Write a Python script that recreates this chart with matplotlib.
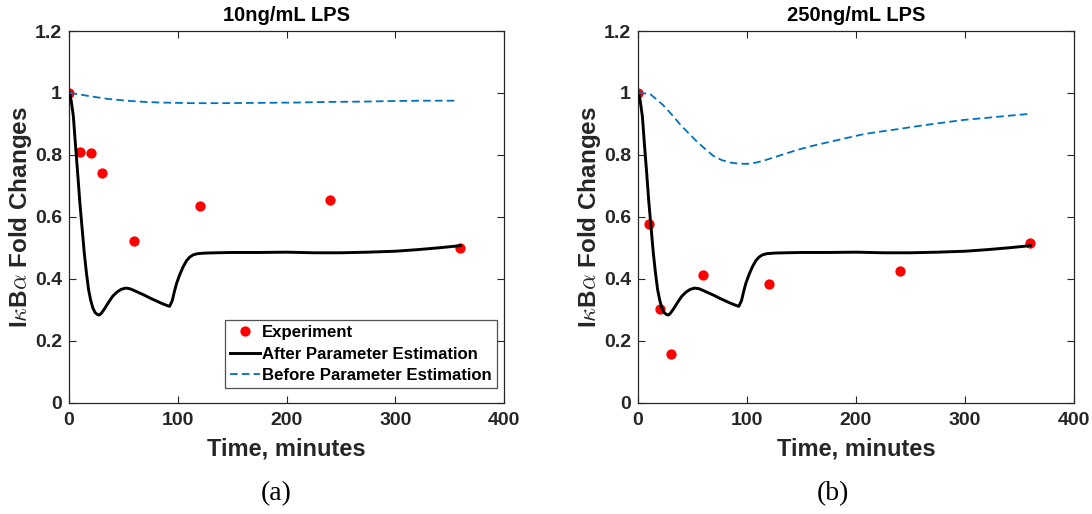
import matplotlib
matplotlib.use("Agg")
import matplotlib.pyplot as plt

plt.rcParams['font.family'] = ['Liberation Sans', 'DejaVu Sans']
plt.rcParams['mathtext.fontset'] = 'cm'
plt.rcParams['lines.scale_dashes'] = False

# ---- data ----
exp_t = [0, 10, 20, 30, 60, 120, 240, 360]
exp_10 = [1.0, 0.808, 0.805, 0.743, 0.521, 0.634, 0.654, 0.500]
exp_250 = [1.0, 0.576, 0.301, 0.157, 0.413, 0.383, 0.426, 0.517]

fit_t = [0.5, 2, 4, 6, 8, 10, 12, 14, 16, 18, 20, 22, 24, 26, 28, 30, 33, 36, 40,
         44, 48, 52, 56, 60, 65, 70, 75, 80, 85, 90, 92.5, 95, 97, 99, 102, 105,
         108, 111, 114, 118, 125, 135, 150, 175, 200, 225, 250, 275, 300, 320,
         340, 360]
fit_v = [1.0, 0.975, 0.925, 0.83, 0.74, 0.645, 0.565, 0.485, 0.42, 0.365, 0.33,
         0.305, 0.291, 0.285, 0.283, 0.29, 0.305, 0.322, 0.343, 0.357, 0.366,
         0.370, 0.368, 0.362, 0.354, 0.346, 0.337, 0.329, 0.321, 0.314, 0.311,
         0.33, 0.36, 0.386, 0.415, 0.439, 0.458, 0.47, 0.477, 0.481, 0.483,
         0.484, 0.485, 0.485, 0.486, 0.484, 0.484, 0.486, 0.489, 0.494, 0.500,
         0.507]

pre_t10 = [0.5, 10, 22, 35, 53, 70, 84, 100, 114, 140, 175, 210, 237, 270, 298, 330, 358]
pre_v10 = [1.0, 0.995, 0.988, 0.981, 0.975, 0.971, 0.969, 0.968, 0.967, 0.967,
           0.968, 0.969, 0.971, 0.972, 0.974, 0.975, 0.975]

pre_t250 = [0.5, 11, 23, 31, 39, 47, 54, 62, 69, 77, 85, 92, 100, 108, 115, 130,
            146, 161, 177, 192, 207, 222, 238, 253, 269, 284, 299, 315, 330, 345, 358]
pre_v250 = [1.0, 0.997, 0.961, 0.93, 0.897, 0.868, 0.843, 0.818, 0.797, 0.783,
            0.775, 0.772, 0.771, 0.775, 0.781, 0.798, 0.816, 0.830, 0.843, 0.855,
            0.867, 0.875, 0.883, 0.891, 0.899, 0.906, 0.913, 0.918, 0.923, 0.928,
            0.932]

titles = ['10ng/mL LPS', '250ng/mL LPS']
panel_labels = ['(a)', '(b)']
xticks = [0, 100, 200, 300, 400]
yticks = [0, 0.2, 0.4, 0.6, 0.8, 1.0, 1.2]
ytick_labels = ['0', '0.2', '0.4', '0.6', '0.8', '1', '1.2']

# ---- figure ----
W, H = 1092, 514
fig = plt.figure(figsize=(W / 100, H / 100), dpi=100)

axes_px = [(69, 504), (638, 1074)]
top_px, bot_px = 31, 402.7
spine_col = '#262626'
blue = '#0072BD'

datasets = [(exp_10, pre_t10, pre_v10), (exp_250, pre_t250, pre_v250)]
label_x = [276, 833]

for i, ((x0, x1), (ev, pt, pv)) in enumerate(zip(axes_px, datasets)):
    ax = fig.add_axes([x0 / W, 1 - bot_px / H, (x1 - x0) / W, (bot_px - top_px) / H])
    ax.plot(exp_t, ev, 'o', color='#FF0000', markersize=7.4, markeredgewidth=0,
            label='Experiment', zorder=2)
    ax.plot(fit_t, fit_v, '-', color='black', linewidth=2.1,
            label='After Parameter Estimation', zorder=3)
    ax.plot(pt, pv, color=blue, linewidth=1.3, dashes=(5.5, 3.0),
            label='Before Parameter Estimation', zorder=4)
    ax.set_xlim(0, 400)
    ax.set_ylim(0, 1.2)
    ax.set_xticks(xticks)
    ax.set_xticklabels([str(t) for t in xticks])
    ax.set_yticks(yticks)
    ax.set_yticklabels(ytick_labels)
    ax.tick_params(direction='in', length=5, width=0.8, top=True, right=True,
                   labelsize=14, colors=spine_col)
    ax.tick_params(axis='x', pad=7)
    ax.tick_params(axis='y', pad=5)
    for lab in ax.get_xticklabels() + ax.get_yticklabels():
        lab.set_fontweight('bold')
    for s in ax.spines.values():
        s.set_color(spine_col)
        s.set_linewidth(0.9)
    ax.set_title(titles[i], fontsize=14.5, fontweight='bold', pad=7)
    ax.set_xlabel('Time, minutes', fontsize=17, fontweight='bold',
                  color=spine_col, labelpad=6)
    ax.set_ylabel(r'I$\kappa$B$\alpha$ Fold Changes', fontsize=17.5,
                  fontweight='bold', color=spine_col, labelpad=1)
    if i == 0:
        leg = ax.legend(loc='lower right', bbox_to_anchor=(0.983, 0.0387),
                        borderaxespad=0, frameon=True,
                        fancybox=False, handlelength=1.8, handletextpad=0.12,
                        borderpad=0.3, labelspacing=0.4,
                        prop={'weight': 'bold', 'size': 12.1})
        leg.get_frame().set_edgecolor(spine_col)
        leg.get_frame().set_linewidth(0.9)
    fig.text(label_x[i] / W, 1 - 494 / H, panel_labels[i], ha='center', va='center',
             fontsize=20, family='Liberation Serif')

fig.savefig('out.png', dpi=100)
